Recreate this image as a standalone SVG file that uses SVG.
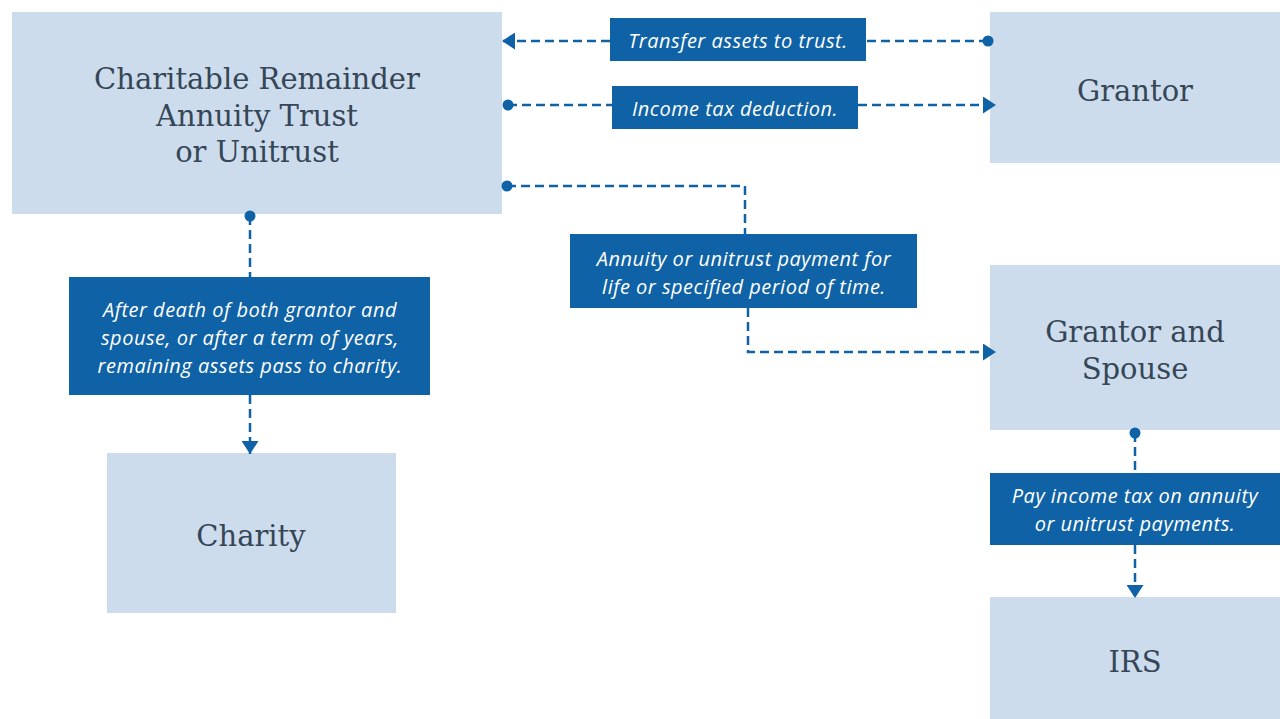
<svg xmlns="http://www.w3.org/2000/svg" width="1280" height="719" viewBox="0 0 1280 719">
<defs>
<style>
.node{fill:#cddcec;}
.lbl{fill:#0f62a5;}
.nt{font-family:"DejaVu Serif","Liberation Serif",serif;font-size:29px;fill:#354657;text-anchor:middle;}
.lt{font-family:"Open Sans","Liberation Sans",sans-serif;font-style:italic;font-size:20px;letter-spacing:0.5px;fill:#ffffff;text-anchor:middle;}
.c{fill:none;stroke:#0f62a5;stroke-width:2.5;stroke-dasharray:9 5;}
.dot{fill:#0f62a5;}
</style>
<marker id="ah" viewBox="0 0 13 17" refX="13" refY="8.5" markerWidth="13" markerHeight="17" markerUnits="userSpaceOnUse" orient="auto">
<path d="M0,0 L13,8.5 L0,17 Z" fill="#0f62a5"/>
</marker>
</defs>
<rect width="1280" height="719" fill="#ffffff"/>

<g id="crt">
<rect class="node" x="12" y="12" width="490" height="202"/>
<text class="nt" x="257" y="89">Charitable Remainder</text>
<text class="nt" x="257" y="126">Annuity Trust</text>
<text class="nt" x="257" y="162">or Unitrust</text>
</g>
<g id="grantor">
<rect class="node" x="990" y="12" width="290" height="151"/>
<text class="nt" x="1135" y="101">Grantor</text>
</g>
<g id="grantor-spouse">
<rect class="node" x="990" y="265" width="290" height="165"/>
<text class="nt" x="1135" y="342">Grantor and</text>
<text class="nt" x="1135" y="379">Spouse</text>
</g>
<g id="charity">
<rect class="node" x="107" y="453" width="289" height="160"/>
<text class="nt" x="251" y="546">Charity</text>
</g>
<g id="irs">
<rect class="node" x="990" y="597" width="290" height="122"/>
<text class="nt" x="1135" y="672">IRS</text>
</g>

<g id="label-transfer">
<rect class="lbl" x="610" y="18" width="256" height="43"/>
<text class="lt" x="738" y="48">Transfer assets to trust.</text>
</g>
<g id="label-income">
<rect class="lbl" x="612" y="86" width="246" height="43"/>
<text class="lt" x="735" y="116">Income tax deduction.</text>
</g>
<g id="label-annuity">
<rect class="lbl" x="570" y="234" width="347" height="74"/>
<text class="lt" x="744" y="266">Annuity or unitrust payment for</text>
<text class="lt" x="744" y="294">life or specified period of time.</text>
</g>
<g id="label-after">
<rect class="lbl" x="69" y="277" width="361" height="118"/>
<text class="lt" x="250" y="317">After death of both grantor and</text>
<text class="lt" x="250" y="345">spouse, or after a term of years,</text>
<text class="lt" x="250" y="373">remaining assets pass to charity.</text>
</g>
<g id="label-pay">
<rect class="lbl" x="990" y="473" width="290" height="72"/>
<text class="lt" x="1135" y="503">Pay income tax on annuity</text>
<text class="lt" x="1135" y="531">or unitrust payments.</text>
</g>

<g id="connectors">
<path class="c" d="M988,41 L866,41"/>
<path class="c" d="M610,41 L502,41" marker-end="url(#ah)"/>
<circle class="dot" cx="988" cy="41" r="5.5"/>
<path class="c" d="M508,105 L612,105"/>
<path class="c" d="M858,105 L996,105" marker-end="url(#ah)"/>
<circle class="dot" cx="508" cy="105" r="5.5"/>
<path class="c" d="M507,186 L745,186 L745,234"/>
<circle class="dot" cx="507" cy="186" r="5.5"/>
<path class="c" d="M748,308 L748,352 L996,352" marker-end="url(#ah)"/>
<path class="c" d="M250,216 L250,277"/>
<circle class="dot" cx="250" cy="216" r="5.5"/>
<path class="c" d="M250,395 L250,454" marker-end="url(#ah)"/>
<path class="c" d="M1135,433 L1135,473"/>
<circle class="dot" cx="1135" cy="433" r="5.5"/>
<path class="c" d="M1135,545 L1135,598" marker-end="url(#ah)"/>
</g>
</svg>
